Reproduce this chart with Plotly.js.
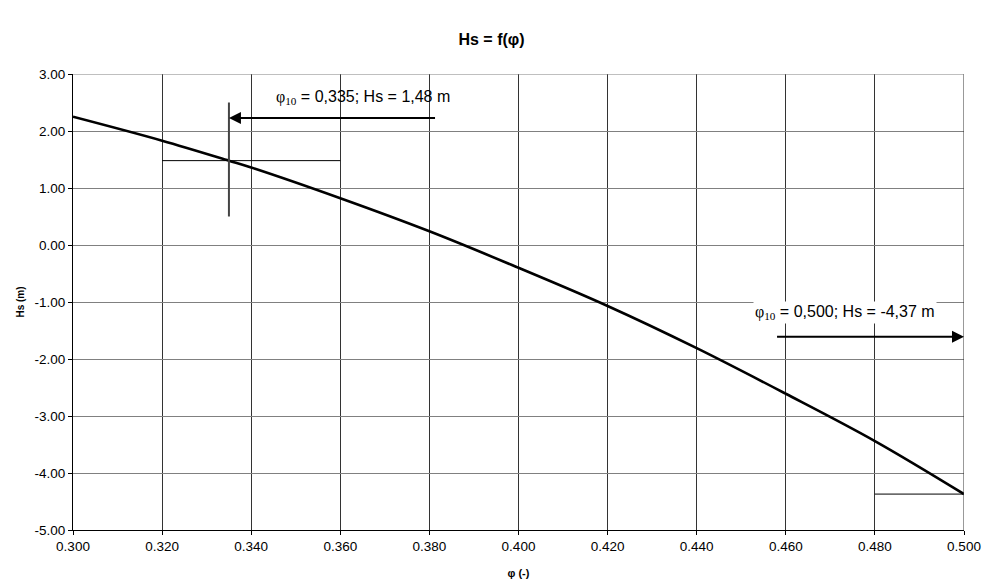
<!DOCTYPE html>
<html>
<head>
<meta charset="utf-8">
<script src="https://cdn.plot.ly/plotly-3.0.1.min.js"></script>
<style>html,body{margin:0;padding:0;background:#fff;}#chart{width:983px;height:586px;}</style>
</head>
<body>
<div id="chart"></div>
<script>
// Curve values
const phi = [0.300, 0.320, 0.335, 0.340, 0.360, 0.380, 0.400, 0.420, 0.440, 0.460, 0.480, 0.500];
const hs  = [2.25, 1.83, 1.48, 1.36, 0.82, 0.24, -0.40, -1.07, -1.81, -2.61, -3.44, -4.37];

// Marker 1: phi10 = 0.335, Hs = 1.48
const mark1Phi = 0.335, mark1Hs = 1.48;
const mark1HLine = [0.320, 0.360];
const mark1VLine = [0.50, 2.50];
const mark1Arrow = {fromX: 0.3816, toX: 0.335, y: 2.23};
const mark1Label = {x: 0.3652, y: 2.59,
  text: "<span style='font-family:\"Liberation Serif\",\"Times New Roman\",serif'>φ<sub>10</sub></span> = 0,335; Hs = 1,48 m"};

// Marker 2: phi10 = 0.500, Hs = -4.37
const mark2Phi = 0.500, mark2Hs = -4.37;
const mark2HLine = [0.480, 0.500];
const mark2Arrow = {fromX: 0.4577, toX: 0.500, y: -1.61};
const mark2Label = {x: 0.4733, y: -1.19,
  text: "<span style='font-family:\"Liberation Serif\",\"Times New Roman\",serif'>φ<sub>10</sub></span> = 0,500; Hs = -4,37 m"};

const xTicks = [0.300,0.320,0.340,0.360,0.380,0.400,0.420,0.440,0.460,0.480,0.500];
const xTickText = ['0.300','0.320','0.340','0.360','0.380','0.400','0.420','0.440','0.460','0.480','0.500'];
const yTicks = [3,2,1,0,-1,-2,-3,-4,-5];
const yTickText = ['3.00','2.00','1.00','0.00','-1.00','-2.00','-3.00','-4.00','-5.00'];

const font = "Arial, 'Liberation Sans', sans-serif";

const traces = [
  {x: phi, y: hs, mode: 'lines', line: {color: '#000', width: 2.6, shape: 'spline', smoothing: 1}, hoverinfo: 'skip'},
  {x: mark1HLine, y: [mark1Hs, mark1Hs], mode: 'lines', line: {color: '#000', width: 1}, hoverinfo: 'skip'},
  {x: [mark1Phi, mark1Phi], y: mark1VLine, mode: 'lines', line: {color: '#444', width: 2}, hoverinfo: 'skip'},
  {x: mark2HLine, y: [mark2Hs, mark2Hs], mode: 'lines', line: {color: '#000', width: 1}, hoverinfo: 'skip'}
];

const layout = {
  width: 983, height: 586,
  margin: {l: 73, r: 19, t: 74, b: 56},
  paper_bgcolor: '#fff', plot_bgcolor: '#fff',
  showlegend: false,
  font: {family: font, color: '#000', size: 12},
  title: {text: '<b>Hs = f(φ)</b>', x: 0.5, xanchor: 'center', y: 0.933, yanchor: 'middle', font: {family: font, size: 16, color: '#000'}},
  xaxis: {
    range: [0.300, 0.500], tickvals: xTicks, ticktext: xTickText, tickmode: 'array',
    showgrid: true, gridcolor: '#333', gridwidth: 1,
    zeroline: false, showline: true, linecolor: '#000', linewidth: 1,
    ticks: 'outside', ticklen: 4, tickcolor: '#000',
    tickfont: {family: font, size: 13.5, color: '#000'},
    title: {text: '<b>φ (-)</b>', font: {family: font, size: 11, color: '#000'}, standoff: 16}
  },
  yaxis: {
    range: [-5, 3], tickvals: yTicks, ticktext: yTickText, tickmode: 'array',
    showgrid: true, gridcolor: '#808080', gridwidth: 1,
    zeroline: false, showline: true, linecolor: '#000', linewidth: 1,
    ticks: 'outside', ticklen: 4, tickcolor: '#000',
    tickfont: {family: font, size: 13.5, color: '#000'},
    title: {text: '<b>Hs (m)</b>', font: {family: font, size: 10, color: '#000'}, standoff: 8}
  },
  shapes: [
    {type: 'line', xref: 'x', yref: 'y', x0: 0.500, x1: 0.500, y0: -5, y1: 3, line: {color: '#333', width: 1}},
    {type: 'line', xref: 'x', yref: 'y', x0: 0.300, x1: 0.500, y0: 3, y1: 3, line: {color: '#808080', width: 1}}
  ],
  annotations: [
    {x: mark1Arrow.toX, y: mark1Arrow.y, ax: mark1Arrow.fromX, ay: mark1Arrow.y, xref: 'x', yref: 'y', axref: 'x', ayref: 'y',
     text: '', showarrow: true, arrowhead: 2, arrowsize: 1.2, arrowwidth: 2, arrowcolor: '#000'},
    {x: mark2Arrow.toX, y: mark2Arrow.y, ax: mark2Arrow.fromX, ay: mark2Arrow.y, xref: 'x', yref: 'y', axref: 'x', ayref: 'y',
     text: '', showarrow: true, arrowhead: 2, arrowsize: 1.2, arrowwidth: 2, arrowcolor: '#000'},
    {x: mark1Label.x, y: mark1Label.y, xref: 'x', yref: 'y', text: mark1Label.text, showarrow: false,
     font: {family: font, size: 16, color: '#000'}},
    {x: mark2Label.x, y: mark2Label.y, xref: 'x', yref: 'y', text: mark2Label.text, showarrow: false,
     font: {family: font, size: 16, color: '#000'}, bgcolor: '#fff', borderpad: 1}
  ]
};

Plotly.newPlot('chart', traces, layout, {displayModeBar: false, staticPlot: true});
</script>
</body>
</html>
